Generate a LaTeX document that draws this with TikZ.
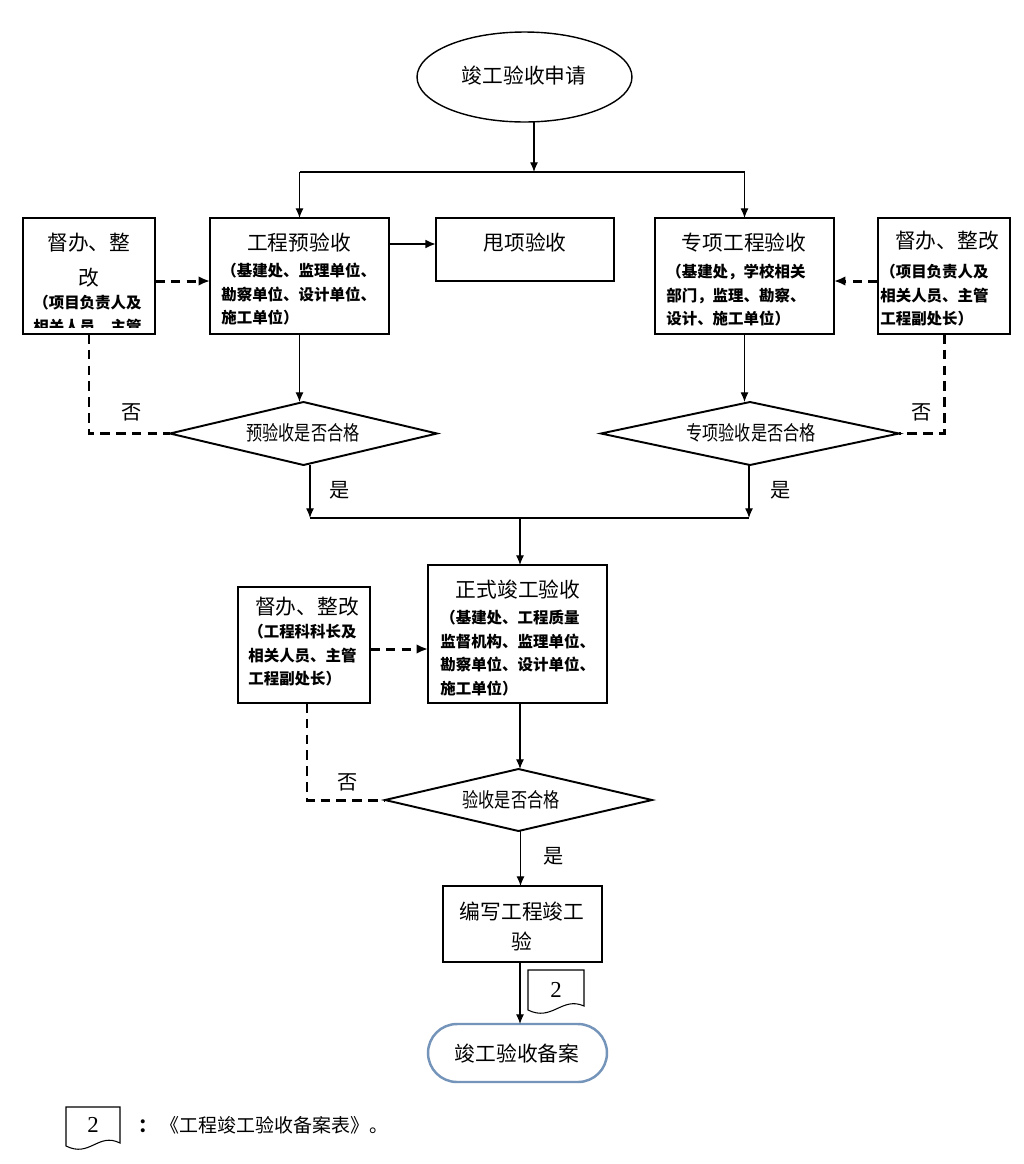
\documentclass[tikz,border=0pt]{standalone}
\usepackage{fontspec}
\setmainfont{Noto Sans CJK SC}
\newfontfamily\latinf{Liberation Serif}
\usepackage{graphicx}
\usetikzlibrary{shapes.geometric,arrows.meta,calc}
\definecolor{termblue}{RGB}{116,148,186}
\begin{document}
\begin{tikzpicture}[x=0.02cm,y=-0.02cm,
  box/.style={draw,line width=0.9pt,inner sep=0,outer sep=0,minimum width=3.58cm,minimum height=2.32cm},
  sbox/.style={box,minimum width=2.64cm,minimum height=2.32cm},
  dia/.style={draw,diamond,line width=1.1pt,inner sep=0,outer sep=0},
  ttl/.style={font=\fontsize{11.8}{14}\selectfont,inner sep=0},
  subt/.style={font=\bfseries\fontsize{8.8}{13.4}\selectfont,align=left,anchor=north west,inner sep=0},
  dtext/.style={font=\fontsize{11.5}{14}\selectfont,inner sep=0},
  lbl/.style={font=\fontsize{11.5}{14}\selectfont,inner sep=0},
  thin/.style={line width=0.6pt},
  arr/.style={thin,-{Latex[length=5.5pt,width=4.5pt]}},
  dashln/.style={line width=1.7pt,dash pattern=on 5.5pt off 3.5pt},
  dasharr/.style={dashln,-{Latex[length=6.5pt,width=5.5pt]}},
  doc/.style={line width=0.6pt}
]
\useasboundingbox[fill=white] (0,0) rectangle (1024,1164);

% start ellipse
\node[draw,ellipse,line width=0.8pt,minimum width=4.30cm,minimum height=1.80cm,inner sep=0,outer sep=0] (ell) at (524.5,77) {};
\node[ttl] (ellt) at (524,76) {竣工验收申请};

% first row boxes
\node[box] (pre) at (299.5,276) {};
\node[ttl] (pret) at (299,243) {工程预验收};
\node[subt] (pres) at (221,263) {（基建处、监理单位、\\勘察单位、设计单位、\\施工单位）};

\node[box,minimum width=3.56cm,minimum height=1.26cm] (sh) at (525,249.5) {};
\node[ttl] (sht) at (525,243) {甩项验收};

\node[box] (spe) at (744.5,276) {};
\node[ttl] (spet) at (744,243) {专项工程验收};
\node[subt] (spes) at (666,264) {（基建处，学校相关\\部门，监理、勘察、\\设计、施工单位）};

\node[sbox] (dl) at (89,276) {};
\node[ttl] (dlt1) at (89,243) {督办、整};
\node[ttl] (dlt2) at (89,278) {改};
\begin{scope}
  \clip (24,219) rectangle (154,327);
  \node[subt] (dls) at (33,295) {（项目负责人及\\相关人员、主管};
\end{scope}

\node[sbox] (dr) at (944,276) {};
\node[ttl] (drt) at (947,241) {督办、整改};
\node[subt] (drs) at (880,264) {（项目负责人及\\相关人员、主管\\工程副处长）};

% diamonds row
\node[dia,minimum width=5.34cm,minimum height=1.26cm] (d1) at (303.5,433.5) {};
\node[dtext] (d1t) at (303,433) {\scalebox{0.8}[1]{预验收是否合格}};
\node[dia,minimum width=5.96cm,minimum height=1.26cm] (d2) at (750,433.5) {};
\node[dtext] (d2t) at (751,433) {\scalebox{0.8}[1]{专项验收是否合格}};

% formal box
\node[box,minimum height=2.76cm] (fm) at (517.5,634) {};
\node[ttl] (fmt) at (518,590) {正式竣工验收};
\node[subt] (fms) at (440,610) {（基建处、工程质量\\监督机构、监理单位、\\勘察单位、设计单位、\\施工单位）};

\node[sbox] (dm) at (304,645) {};
\node[ttl] (dmt) at (307,607) {督办、整改};
\node[subt] (dms) at (248,624) {（工程科科长及\\相关人员、主管\\工程副处长）};

\node[dia,minimum width=5.34cm,minimum height=1.24cm] (d3) at (518.5,800) {};
\node[dtext] (d3t) at (511,800) {\scalebox{0.8}[1]{验收是否合格}};

\node[box,minimum width=3.18cm,minimum height=1.52cm] (wr) at (522.5,924) {};
\node[ttl,align=center,font=\fontsize{11.8}{17}\selectfont] (wrt) at (522,926) {编写工程竣工\\验};

\node[draw=termblue,line width=1.4pt,rounded corners=0.58cm,minimum width=3.58cm,minimum height=1.16cm,inner sep=0,outer sep=0] (term) at (517.5,1053) {};
\node[ttl] (termt) at (517,1054) {竣工验收备案};

% helper coordinates
\coordinate (split) at (534,172);
\coordinate (r1) at (0,281);
\coordinate (r0) at (0,244);
\coordinate (bus) at (0,518);
\coordinate (r2) at (0,649);
\coordinate (x1) at (310,0);
\coordinate (x2) at (749,0);
\coordinate (xc) at (520,0);
\coordinate (xw) at (520.5,0);
\coordinate (xm) at (307,0);

% connectors
\draw[arr] (ell.south -| split) -- (split);
\draw[thin] (pre.north |- split) -- (spe.north |- split);
\draw[arr] (pre.north |- split) -- (pre.north);
\draw[arr] (spe.north |- split) -- (spe.north);
\draw[line width=1.6pt,-{Latex[length=6pt,width=5pt]}] (pre.east |- r0) -- (sh.west |- r0);
\draw[dasharr] (dl.east |- r1) -- (pre.west |- r1);
\draw[dasharr] (dr.west |- r1) -- (spe.east |- r1);
\draw[arr] (pre.south) -- (pre.south |- d1.north);
\draw[arr] (spe.south) -- (spe.south |- d2.north);
\draw[dashln] (dl.south) |- (d1.west);
\draw[dashln] (dr.south) |- (d2.east);
\draw[arr] (x1 |- d1.south) -- (x1 |- bus);
\draw[arr] (x2 |- d2.south) -- (x2 |- bus);
\draw[thin] (x1 |- bus) -- (x2 |- bus);
\draw[arr] (xc |- bus) -- (xc |- fm.north);
\draw[arr] (xc |- fm.south) -- (xc |- d3.north);
\draw[dasharr] (dm.east |- r2) -- (fm.west |- r2);
\draw[dashln] (xm |- dm.south) |- (d3.west);
\draw[arr] (xw |- d3.south) -- (xw |- wr.north);
\draw[arr] (xc |- wr.south) -- (xc |- term.north);

% labels
\node[lbl] (no1) at (132,412) {否};
\node[lbl] (no2) at (922,412) {否};
\node[lbl] (no3) at (348,782) {否};
\node[lbl] (yes1) at (340,490) {是};
\node[lbl] (yes2) at (781,490) {是};
\node[lbl] (yes3) at (554,856) {是};

% document symbol
\draw[doc] (528,970) -- (584,970) -- (584,1006) .. controls (562,996) and (552,1022) .. (528,1010) -- cycle;
\node[inner sep=0,font=\latinf\fontsize{13}{15}\selectfont] (doc2) at (556,990) {2};

% legend
\draw[doc] (66,1107) -- (120,1107) -- (120,1143) .. controls (98,1132) and (90,1158) .. (66,1146) -- cycle;
\node[inner sep=0,font=\latinf\fontsize{13}{15}\selectfont] (leg2) at (93,1125) {2};
\node[inner sep=0,font=\bfseries\fontsize{10.8}{13}\selectfont] (colon) at (148,1126) {：};
\node[inner sep=0,anchor=west,font=\fontsize{10.8}{13}\selectfont] (legt) at (160,1125) {《工程竣工验收备案表》。};
\end{tikzpicture}
\end{document}
